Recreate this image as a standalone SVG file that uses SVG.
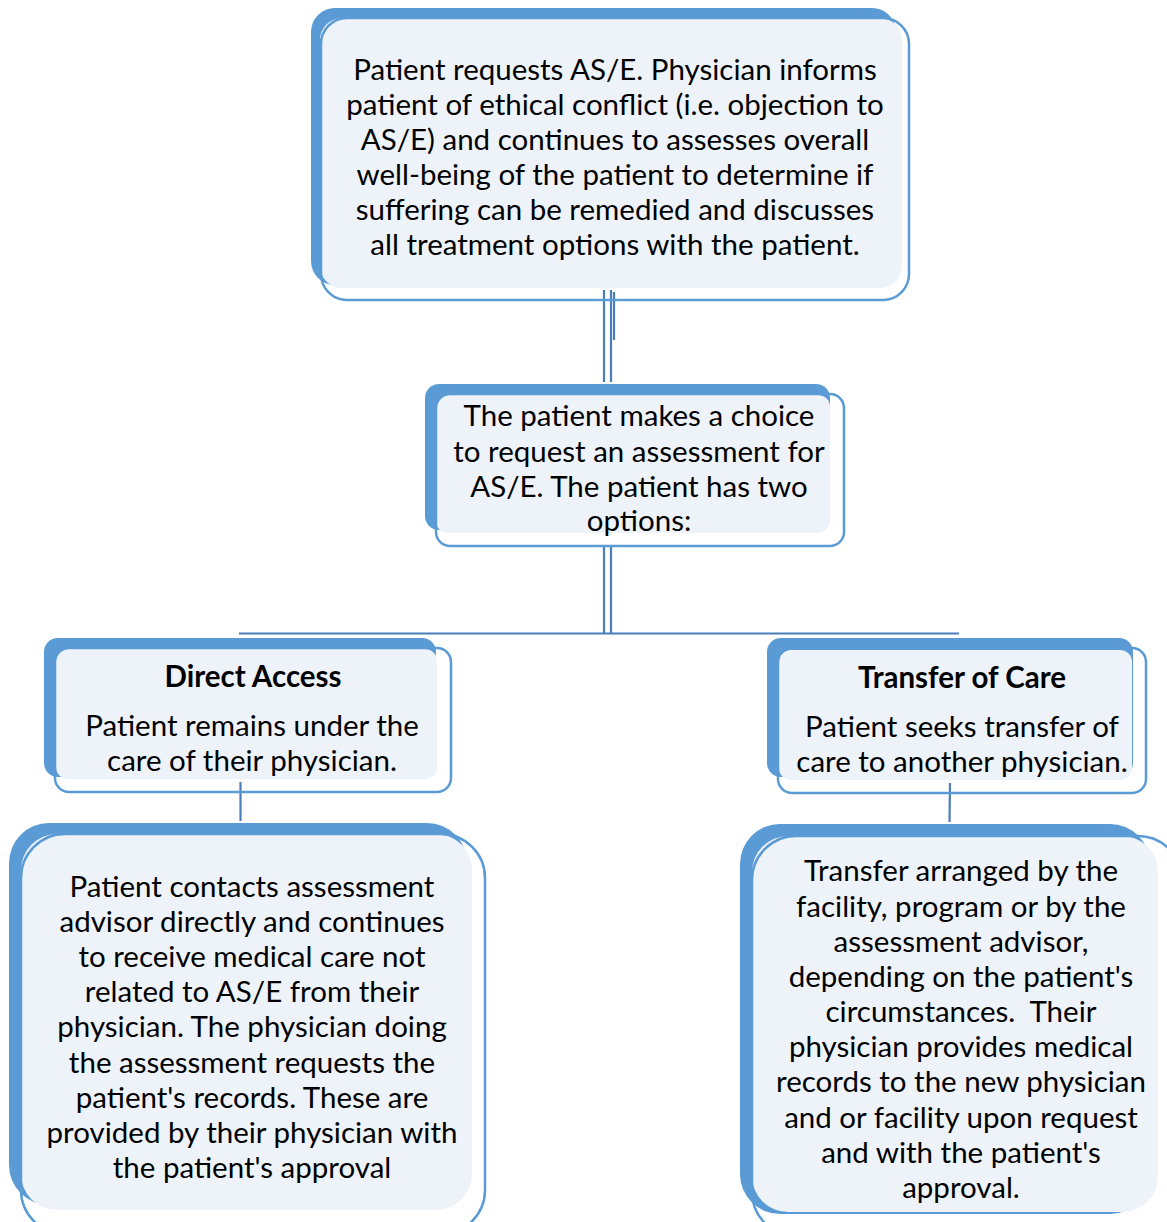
<svg xmlns="http://www.w3.org/2000/svg" width="1167" height="1222" viewBox="0 0 1167 1222">
<defs>
<style>
.sh{fill:#5B9BD5;}
.fl{fill:#EEF3FA;}
.ol{fill:none;stroke:#5B9BD5;stroke-width:2.5;}
.cn{stroke:#4A7EBB;stroke-width:2.2;fill:none;}
text{font-family:Lato,"Noto Sans","Liberation Sans",sans-serif;font-size:29.5px;fill:#000;text-anchor:middle;}
.b{font-weight:bold;}
</style>
</defs>
<rect width="1167" height="1222" fill="#fff"/>
<g id="connectors">
<line class="cn" x1="604" y1="290" x2="604" y2="382"/>
<line class="cn" x1="611" y1="290" x2="611" y2="382"/>
<line class="cn" x1="614" y1="292" x2="614" y2="340" stroke-width="1.5"/>
<line class="cn" x1="604" y1="546" x2="604" y2="634"/>
<line class="cn" x1="611" y1="546" x2="611" y2="634"/>
<line class="cn" x1="239" y1="633.5" x2="959" y2="633.5" stroke-width="2.5"/>
<line class="cn" x1="240.5" y1="782" x2="240.5" y2="821"/>
<line class="cn" x1="950" y1="783" x2="949.5" y2="822"/>
</g>
<g id="node-top">
<rect class="sh" x="311" y="8" width="585" height="277" rx="24"/>
<rect class="fl" x="320" y="18" width="582" height="270" rx="22"/>
<rect class="ol" x="321" y="18" width="588" height="282" rx="26"/>
<text x="615" y="80">Patient requests AS/E. Physician informs</text>
<text x="615" y="115">patient of ethical conflict (i.e. objection to</text>
<text x="615" y="150">AS/E) and continues to assesses overall</text>
<text x="615" y="185">well-being of the patient to determine if</text>
<text x="615" y="220">suffering can be remedied and discusses</text>
<text x="615" y="255">all treatment options with the patient.</text>
</g>
<g id="node-choice">
<rect class="sh" x="425" y="384" width="405" height="146" rx="14"/>
<rect class="fl" x="436" y="395" width="394" height="138" rx="12"/>
<rect class="ol" x="436" y="394" width="408" height="152" rx="14"/>
<text x="639" y="426">The patient makes a choice</text>
<text x="639" y="462">to request an assessment for</text>
<text x="639" y="497">AS/E. The patient has two</text>
<text x="639" y="531">options:</text>
</g>
<g id="node-direct">
<rect class="sh" x="44" y="638" width="392" height="139" rx="14"/>
<rect class="fl" x="56" y="649" width="381" height="130" rx="12"/>
<rect class="ol" x="55" y="648" width="396" height="144" rx="14"/>
<text class="b" x="253" y="687">Direct Access</text>
<text x="252" y="736">Patient remains under the</text>
<text x="252" y="771">care of their physician.</text>
</g>
<g id="node-transfer">
<rect class="sh" x="767" y="638" width="366" height="139" rx="14"/>
<rect class="fl" x="779" y="650" width="353" height="130" rx="12"/>
<rect class="ol" x="778" y="648" width="368" height="145" rx="14"/>
<text class="b" x="962" y="688">Transfer of Care</text>
<text x="962" y="737">Patient seeks transfer of</text>
<text x="962" y="772">care to another physician.</text>
</g>
<g id="node-direct-detail">
<rect class="sh" x="9" y="823" width="458" height="382" rx="40"/>
<rect class="fl" x="21" y="834" width="451" height="376" rx="36"/>
<rect class="ol" x="21" y="834" width="464" height="400" rx="44"/>
<text x="252" y="897">Patient contacts assessment</text>
<text x="252" y="932">advisor directly and continues</text>
<text x="252" y="967">to receive medical care not</text>
<text x="252" y="1002">related to AS/E from their</text>
<text x="252" y="1037">physician. The physician doing</text>
<text x="252" y="1073">the assessment requests the</text>
<text x="252" y="1108">patient's records. These are</text>
<text x="252" y="1143">provided by their physician with</text>
<text x="252" y="1178">the patient's approval</text>
</g>
<g id="node-transfer-detail">
<rect class="sh" x="740" y="824" width="410" height="390" rx="40"/>
<rect class="fl" x="752" y="836" width="406" height="376" rx="36"/>
<rect class="ol" x="752" y="836" width="430" height="400" rx="44"/>
<text x="961" y="881">Transfer arranged by the</text>
<text x="961" y="917">facility, program or by the</text>
<text x="961" y="952">assessment advisor,</text>
<text x="961" y="987">depending on the patient's</text>
<text x="961" y="1022" xml:space="preserve">circumstances.  Their</text>
<text x="961" y="1057">physician provides medical</text>
<text x="961" y="1092">records to the new physician</text>
<text x="961" y="1128">and or facility upon request</text>
<text x="961" y="1163">and with the patient's</text>
<text x="961" y="1198">approval.</text>
</g>
</svg>
